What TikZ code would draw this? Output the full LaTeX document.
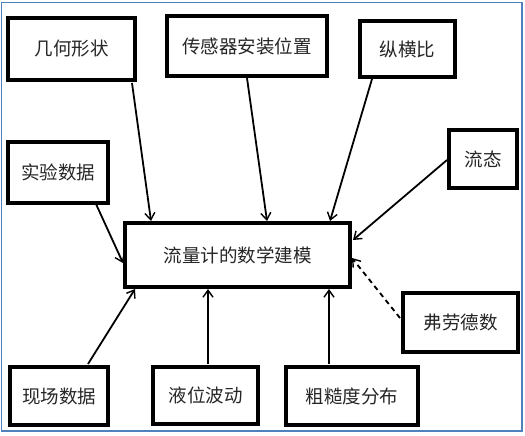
\documentclass[tikz,border=0pt]{standalone}
\usepackage{fontspec}
\newfontfamily\cjk{Noto Sans CJK SC}
\usetikzlibrary{arrows.meta,calc}
\definecolor{frameblue}{RGB}{79,129,189}
\begin{document}
\begin{tikzpicture}[x=1pt,y=-1pt,
  box/.style={draw=black,line width=3.2pt,fill=white,inner sep=0pt,outer sep=0pt,
    font=\cjk\fontsize{18.5}{18.5}\selectfont,text=black!85},
  arr/.style={line width=1.8pt,-{Straight Barb[length=7pt,width=10pt,line width=1.4pt]}},
  darr/.style={arr,dash pattern=on 5pt off 4pt}]
\useasboundingbox (0,0) rectangle (525,436);
\fill[white] (0,0) rectangle (525,436);
\draw[frameblue,line width=1.8pt] (1.5,2.5) rectangle (522,431);
% boxes
\node[box,minimum width=127pt,minimum height=62pt] (jihe) at (71.5,49) {几何形状};
\node[box,minimum width=160pt,minimum height=60pt] (chuan) at (247,46) {传感器安装位置};
\node[box,minimum width=95pt,minimum height=56pt] (zong) at (407.5,49) {纵横比};
\node[box,minimum width=100pt,minimum height=61pt] (shiyan) at (58,172.5) {实验数据};
\node[box,minimum width=68pt,minimum height=58pt] (liutai) at (483,159) {流态};
\node[box,minimum width=225pt,minimum height=64pt] (center) at (237.5,255) {流量计的数学建模};
\node[box,minimum width=115pt,minimum height=59pt] (fu) at (460.5,322.5) {弗劳德数};
\node[box,minimum width=98pt,minimum height=58pt] (xian) at (59,396) {现场数据};
\node[box,minimum width=105pt,minimum height=57pt] (ye) at (205.5,395.5) {液位波动};
\node[box,minimum width=132pt,minimum height=58pt] (cu) at (352,396) {粗糙度分布};
% connectors
\draw[arr] ($(jihe.south east)+(-3,3)$) -- ($(center.north west)+(26,-2)$);
\draw[arr] ($(chuan.south)+(0,2)$) -- ($(center.north west)+(142,-2)$);
\draw[arr] ($(zong.south west)+(12,2)$) -- ($(center.north west)+(205,-2)$);
\draw[arr] ($(shiyan.south east)+(-12,1)$) -- ($(center.west)+(-2,8)$);
\draw[arr] ($(liutai.west)+(-2,1)$) -- ($(center.north east)+(3,17)$);
\draw[darr] ($(fu.west)+(-3,-4.5)$) -- ($(center.east)+(2,3)$);
\draw[arr] ($(xian.north)+(29,-3)$) -- ($(center.south west)+(10,2)$);
\draw[arr] ($(ye.north)+(2.5,-3)$) -- ($(center.south west)+(83,2)$);
\draw[arr] ($(cu.north)+(-23,-3)$) -- ($(center.south west)+(204,2)$);
\end{tikzpicture}
\end{document}
